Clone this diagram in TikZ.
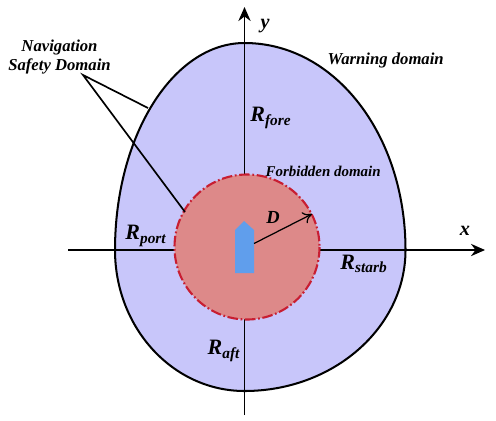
\documentclass[tikz,border=0pt]{standalone}
\usepackage{fontspec}
\setmainfont{Liberation Serif}
\usetikzlibrary{arrows.meta}
\definecolor{warnblue}{RGB}{200,198,250}
\definecolor{forbred}{RGB}{221,137,137}
\definecolor{rimred}{RGB}{200,30,50}
\definecolor{shipblue}{RGB}{96,158,236}
\begin{document}
\begin{tikzpicture}[x=0.02cm,y=-0.02cm,line width=0.75pt,
        axis/.style={-{Stealth[length=8pt,width=7pt]},line width=0.9pt},
        lead/.style={line width=0.95pt},
        lbl/.style={font=\bfseries\itshape\fontsize{9.5}{11.3}\selectfont,inner sep=0pt,align=center},
        rad/.style={font=\bfseries\itshape\fontsize{12.5}{14}\selectfont,inner sep=0pt},
        axl/.style={font=\bfseries\itshape\fontsize{11.5}{13}\selectfont,inner sep=0pt}]
      \useasboundingbox (0,0) rectangle (496,420);
      \coordinate (O) at (247,247);
      \def\eggpath{(405.5,250) .. controls (405.5,135) and (335,43) .. (244.5,43)
        .. controls (173,43) and (115,136) .. (115,250)
        .. controls (115,328) and (173,391) .. (244.5,391)
        .. controls (333,391) and (405.5,328) .. (405.5,250) -- cycle}
      % warning domain, egg outline
      \fill[warnblue] \eggpath;
      \coordinate (xstart) at (68,250);
      \coordinate (xend) at (485,250);
      \coordinate (ystart) at (244.5,415);
      \coordinate (yend) at (244.5,7);
      \draw[axis] (xstart) -- (xend);
      \draw[axis] (ystart) -- (yend);
      \draw[line width=1.15pt] \eggpath;
      % forbidden domain
      \draw[rimred,fill=forbred,line width=1.2pt,dash pattern=on 6pt off 1.5pt on 1pt off 1.5pt] (O) circle (72.5);
      % ship
      \fill[shipblue] (235,273) -- (235,230) -- (244,221) -- (254,230) -- (254,273) -- cycle;
      \coordinate (shipside) at (254,243.5);
      \coordinate (rimpt) at (312,214);
      \draw[-{To[length=5pt,width=7pt]},line width=0.7pt] (shipside) -- (rimpt);
      % labels
      \node[lbl] (nav) at (59.5,57) {Navigation\\Safety Domain};
      \coordinate (navtip) at (83,75);
      \coordinate (warnpt) at (148,108);
      \coordinate (forbpt) at (185,212);
      \draw[lead] (warnpt) -- (navtip) -- (forbpt);
      \node[lbl,anchor=west] (warn) at (327,60) {Warning domain};
      \node[lbl,anchor=west,font=\bfseries\itshape\fontsize{8.5}{10}\selectfont] (forb) at (265,171) {Forbidden domain};
      \node[rad] (rfore) at (271,118) {R\textsubscript{fore}};
      \node[rad] (rport) at (146,236) {R\textsubscript{port}};
      \node[rad] (rstarb) at (364,264) {R\textsubscript{starb}};
      \node[rad] (raft) at (224,351) {R\textsubscript{aft}};
      \node[font=\bfseries\itshape\fontsize{10.5}{12}\selectfont,inner sep=0pt] (dlab) at (273,217) {D};
      \node[axl] (xlab) at (465,231) {x};
      \node[axl] (ylab) at (265,26) {y};
    \end{tikzpicture}
\end{document}
